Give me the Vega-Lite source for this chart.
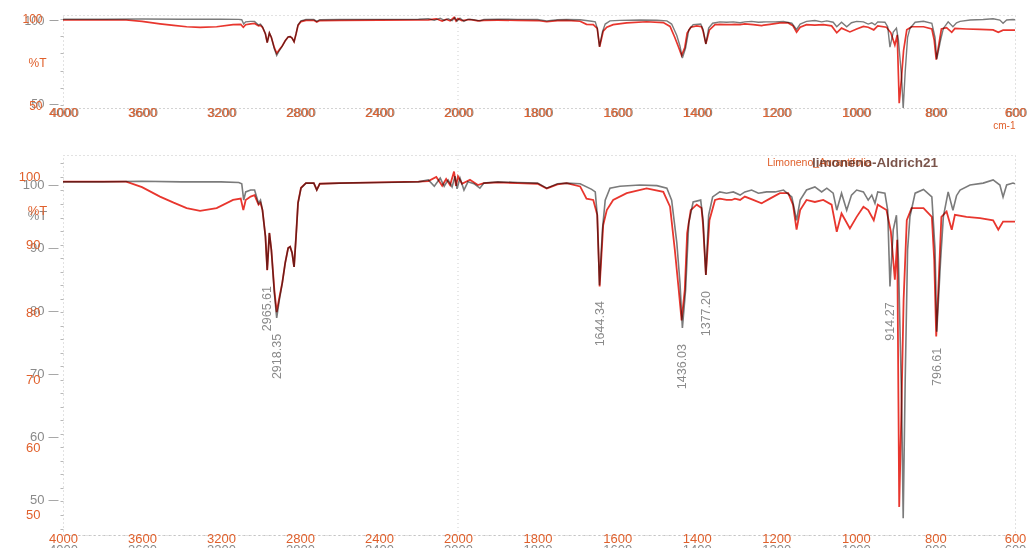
{
  "$schema": "https://vega.github.io/schema/vega-lite/v6.json",
  "background": "white",
  "padding": {"left": 17, "top": 12, "right": 10, "bottom": 0},
  "bounds": "flush",
  "spacing": 47,
  "config": {
    "view": {"stroke": "#c4c4c4", "strokeDash": [1, 3], "strokeWidth": 1},
    "font": "Liberation Sans",
    "axis": {"grid": false, "labelFont": "Liberation Sans", "titleFont": "Liberation Sans", "labelOverlap": false, "labelFlush": false, "labelBound": false, "domain": false, "format": "d"}
  },
  "datasets": {
    "gray": [
      {"wn": 4000, "t": 100.5}, {"wn": 3800, "t": 100.5}, {"wn": 3600, "t": 100.6}, {"wn": 3400, "t": 100.5}, {"wn": 3200, "t": 100.5},
      {"wn": 3110, "t": 100.4}, {"wn": 3095, "t": 100.2}, {"wn": 3085, "t": 97.6}, {"wn": 3075, "t": 98.9}, {"wn": 3050, "t": 99.2},
      {"wn": 3030, "t": 99.2}, {"wn": 3010, "t": 97.1}, {"wn": 3000, "t": 97.6}, {"wn": 2990, "t": 96.0}, {"wn": 2975, "t": 91.8},
      {"wn": 2966, "t": 86.5}, {"wn": 2955, "t": 92.4}, {"wn": 2945, "t": 89.7}, {"wn": 2930, "t": 82.9}, {"wn": 2918, "t": 78.9},
      {"wn": 2905, "t": 81.7}, {"wn": 2890, "t": 84.4}, {"wn": 2875, "t": 87.6}, {"wn": 2860, "t": 90.0}, {"wn": 2850, "t": 90.2},
      {"wn": 2840, "t": 89.2}, {"wn": 2830, "t": 87.0}, {"wn": 2820, "t": 91.8}, {"wn": 2810, "t": 97.1}, {"wn": 2795, "t": 99.5},
      {"wn": 2770, "t": 100.3}, {"wn": 2730, "t": 100.3}, {"wn": 2715, "t": 99.2}, {"wn": 2700, "t": 100.2}, {"wn": 2600, "t": 100.3},
      {"wn": 2400, "t": 100.4}, {"wn": 2200, "t": 100.5}, {"wn": 2150, "t": 100.8}, {"wn": 2120, "t": 99.8}, {"wn": 2090, "t": 101.1},
      {"wn": 2070, "t": 99.8}, {"wn": 2050, "t": 100.8}, {"wn": 2030, "t": 99.7}, {"wn": 2015, "t": 101.4}, {"wn": 2005, "t": 99.4},
      {"wn": 1995, "t": 101.1}, {"wn": 1985, "t": 99.2}, {"wn": 1975, "t": 100.5}, {"wn": 1960, "t": 100.2}, {"wn": 1945, "t": 99.5},
      {"wn": 1935, "t": 100.3}, {"wn": 1900, "t": 100.5}, {"wn": 1850, "t": 100.4}, {"wn": 1800, "t": 100.3}, {"wn": 1777, "t": 99.5},
      {"wn": 1750, "t": 100.2}, {"wn": 1727, "t": 100.3}, {"wn": 1693, "t": 100.2}, {"wn": 1664, "t": 99.3}, {"wn": 1655, "t": 98.9},
      {"wn": 1650, "t": 95.2}, {"wn": 1644.34, "t": 84.1}, {"wn": 1637, "t": 92.9}, {"wn": 1630, "t": 97.6}, {"wn": 1618, "t": 99.5},
      {"wn": 1593, "t": 99.8}, {"wn": 1543, "t": 100.0}, {"wn": 1500, "t": 99.9}, {"wn": 1475, "t": 99.5}, {"wn": 1463, "t": 97.6},
      {"wn": 1450, "t": 90.8}, {"wn": 1442, "t": 84.4}, {"wn": 1436, "t": 77.3}, {"wn": 1428, "t": 83.3}, {"wn": 1420, "t": 94.0},
      {"wn": 1409, "t": 97.3}, {"wn": 1390, "t": 97.6}, {"wn": 1384, "t": 94.4}, {"wn": 1377, "t": 85.7}, {"wn": 1370, "t": 95.2},
      {"wn": 1360, "t": 98.1}, {"wn": 1342, "t": 98.9}, {"wn": 1325, "t": 98.7}, {"wn": 1308, "t": 98.9}, {"wn": 1291, "t": 98.4},
      {"wn": 1279, "t": 98.9}, {"wn": 1262, "t": 99.2}, {"wn": 1245, "t": 98.7}, {"wn": 1224, "t": 98.9}, {"wn": 1203, "t": 98.9},
      {"wn": 1182, "t": 99.2}, {"wn": 1161, "t": 98.1}, {"wn": 1149, "t": 94.4}, {"wn": 1140, "t": 97.6}, {"wn": 1124, "t": 99.2},
      {"wn": 1103, "t": 99.7}, {"wn": 1086, "t": 98.9}, {"wn": 1073, "t": 99.5}, {"wn": 1057, "t": 98.7}, {"wn": 1048, "t": 96.0},
      {"wn": 1036, "t": 98.7}, {"wn": 1023, "t": 96.0}, {"wn": 1011, "t": 98.4}, {"wn": 998, "t": 99.2}, {"wn": 981, "t": 98.9},
      {"wn": 969, "t": 97.6}, {"wn": 960, "t": 98.4}, {"wn": 952, "t": 97.1}, {"wn": 945, "t": 98.9}, {"wn": 927, "t": 98.7},
      {"wn": 920, "t": 96.0}, {"wn": 914.27, "t": 83.9}, {"wn": 906, "t": 92.9}, {"wn": 898, "t": 95.2}, {"wn": 893, "t": 88.1},
      {"wn": 885, "t": 65.9}, {"wn": 881, "t": 47.1}, {"wn": 876, "t": 69.0}, {"wn": 870, "t": 89.7}, {"wn": 864, "t": 95.0},
      {"wn": 851, "t": 98.7}, {"wn": 830, "t": 99.3}, {"wn": 809, "t": 98.1}, {"wn": 801, "t": 89.7}, {"wn": 796.61, "t": 76.7},
      {"wn": 787, "t": 88.1}, {"wn": 780, "t": 95.0}, {"wn": 768, "t": 98.9}, {"wn": 756, "t": 96.0}, {"wn": 747, "t": 98.3},
      {"wn": 738, "t": 99.2}, {"wn": 713, "t": 100.0}, {"wn": 680, "t": 100.3}, {"wn": 655, "t": 100.8}, {"wn": 638, "t": 100.0},
      {"wn": 630, "t": 98.1}, {"wn": 621, "t": 100.0}, {"wn": 605, "t": 100.3}, {"wn": 600, "t": 100.2}
    ],
    "red": [
      {"wn": 4000, "t": 99.3}, {"wn": 3800, "t": 99.3}, {"wn": 3680, "t": 99.3}, {"wn": 3600, "t": 98.5}, {"wn": 3509, "t": 97.1},
      {"wn": 3440, "t": 96.2}, {"wn": 3374, "t": 95.4}, {"wn": 3306, "t": 95.0}, {"wn": 3222, "t": 95.4}, {"wn": 3139, "t": 96.6},
      {"wn": 3100, "t": 96.8}, {"wn": 3087, "t": 95.1}, {"wn": 3075, "t": 96.6}, {"wn": 3050, "t": 97.1}, {"wn": 3030, "t": 97.3},
      {"wn": 3010, "t": 95.9}, {"wn": 3000, "t": 96.2}, {"wn": 2990, "t": 95.1}, {"wn": 2975, "t": 91.2}, {"wn": 2966, "t": 86.2},
      {"wn": 2955, "t": 91.7}, {"wn": 2945, "t": 89.2}, {"wn": 2930, "t": 83.3}, {"wn": 2918, "t": 80.0}, {"wn": 2905, "t": 82.1},
      {"wn": 2890, "t": 84.3}, {"wn": 2875, "t": 87.3}, {"wn": 2860, "t": 89.5}, {"wn": 2850, "t": 89.7}, {"wn": 2840, "t": 88.8},
      {"wn": 2830, "t": 86.7}, {"wn": 2820, "t": 91.2}, {"wn": 2810, "t": 96.2}, {"wn": 2795, "t": 98.4}, {"wn": 2770, "t": 99.1},
      {"wn": 2730, "t": 99.1}, {"wn": 2715, "t": 98.1}, {"wn": 2700, "t": 99.0}, {"wn": 2600, "t": 99.1}, {"wn": 2400, "t": 99.2},
      {"wn": 2200, "t": 99.3}, {"wn": 2150, "t": 99.4}, {"wn": 2110, "t": 100.0}, {"wn": 2080, "t": 98.7}, {"wn": 2060, "t": 99.7},
      {"wn": 2040, "t": 98.8}, {"wn": 2020, "t": 100.8}, {"wn": 2010, "t": 98.7}, {"wn": 2000, "t": 100.1}, {"wn": 1990, "t": 99.0},
      {"wn": 1970, "t": 99.6}, {"wn": 1950, "t": 98.8}, {"wn": 1935, "t": 99.1}, {"wn": 1900, "t": 99.2}, {"wn": 1850, "t": 99.1},
      {"wn": 1800, "t": 99.0}, {"wn": 1777, "t": 98.3}, {"wn": 1750, "t": 98.9}, {"wn": 1727, "t": 99.1}, {"wn": 1693, "t": 98.6},
      {"wn": 1677, "t": 96.8}, {"wn": 1660, "t": 96.6}, {"wn": 1650, "t": 94.4}, {"wn": 1644, "t": 83.8}, {"wn": 1635, "t": 92.9},
      {"wn": 1626, "t": 95.1}, {"wn": 1610, "t": 96.6}, {"wn": 1576, "t": 97.6}, {"wn": 1526, "t": 98.3}, {"wn": 1484, "t": 97.8},
      {"wn": 1467, "t": 95.6}, {"wn": 1455, "t": 89.2}, {"wn": 1446, "t": 83.8}, {"wn": 1438, "t": 78.8}, {"wn": 1430, "t": 83.3},
      {"wn": 1424, "t": 91.7}, {"wn": 1415, "t": 95.1}, {"wn": 1400, "t": 95.9}, {"wn": 1388, "t": 95.4}, {"wn": 1384, "t": 92.9},
      {"wn": 1377, "t": 85.5}, {"wn": 1368, "t": 93.6}, {"wn": 1354, "t": 96.6}, {"wn": 1342, "t": 96.8}, {"wn": 1325, "t": 96.6},
      {"wn": 1312, "t": 96.6}, {"wn": 1304, "t": 96.8}, {"wn": 1291, "t": 96.6}, {"wn": 1279, "t": 97.1}, {"wn": 1258, "t": 96.6},
      {"wn": 1237, "t": 96.1}, {"wn": 1216, "t": 96.8}, {"wn": 1191, "t": 97.6}, {"wn": 1170, "t": 97.6}, {"wn": 1158, "t": 95.9},
      {"wn": 1149, "t": 92.2}, {"wn": 1140, "t": 95.1}, {"wn": 1124, "t": 96.6}, {"wn": 1103, "t": 96.3}, {"wn": 1082, "t": 96.6},
      {"wn": 1061, "t": 95.9}, {"wn": 1048, "t": 91.9}, {"wn": 1036, "t": 94.6}, {"wn": 1015, "t": 92.4}, {"wn": 998, "t": 94.1},
      {"wn": 981, "t": 95.6}, {"wn": 969, "t": 95.1}, {"wn": 955, "t": 93.6}, {"wn": 945, "t": 95.9}, {"wn": 923, "t": 95.1},
      {"wn": 912, "t": 91.9}, {"wn": 902, "t": 84.8}, {"wn": 896, "t": 90.7}, {"wn": 893, "t": 67.0}, {"wn": 891, "t": 51.2},
      {"wn": 886, "t": 64.1}, {"wn": 880, "t": 81.8}, {"wn": 872, "t": 93.6}, {"wn": 860, "t": 95.4}, {"wn": 830, "t": 95.4},
      {"wn": 809, "t": 94.1}, {"wn": 803, "t": 87.7}, {"wn": 798, "t": 76.4}, {"wn": 792, "t": 84.3}, {"wn": 785, "t": 94.1},
      {"wn": 772, "t": 94.9}, {"wn": 759, "t": 92.2}, {"wn": 751, "t": 94.4}, {"wn": 722, "t": 94.1}, {"wn": 688, "t": 93.9},
      {"wn": 655, "t": 93.6}, {"wn": 642, "t": 92.2}, {"wn": 630, "t": 93.4}, {"wn": 600, "t": 93.4}
    ],
    "peaks": [
      {"wn": 2965.61, "t": 86.5, "label": "2965.61"},
      {"wn": 2918.35, "t": 78.9, "label": "2918.35"},
      {"wn": 1644.34, "t": 84.1, "label": "1644.34"},
      {"wn": 1436.03, "t": 77.3, "label": "1436.03"},
      {"wn": 1377.20, "t": 85.7, "label": "1377.20"},
      {"wn": 914.27, "t": 83.9, "label": "914.27"},
      {"wn": 796.61, "t": 76.7, "label": "796.61"}
    ]
  },
  "vconcat": [
    {
      "width": 952,
      "height": 93,
      "resolve": {"scale": {"y": "independent"}, "axis": {"x": "independent", "y": "independent"}},
      "layer": [
        {
          "layer": [
            {
              "data": {"values": [{}]},
              "mark": {"type": "rule", "color": "#cfcfcf", "strokeDash": [1, 3]},
              "encoding": {"x": {"datum": 2000, "type": "quantitative", "scale": {"domain": [4000, 2000, 600], "range": [0, 395, 952], "nice": false, "zero": false}}}
            },
            {
              "data": {"name": "gray"},
              "mark": {"type": "line", "color": "#7b7b7b", "strokeWidth": 1.4, "clip": true},
              "encoding": {
                "x": {"field": "wn", "type": "quantitative", "scale": {"domain": [4000, 2000, 600], "range": [0, 395, 952], "nice": false, "zero": false},
                  "axis": {"orient": "bottom", "values": [4000, 3600, 3200, 2800, 2400, 2000, 1800, 1600, 1400, 1200, 1000, 800, 600], "labelColor": "#6a6a6a", "labelOpacity": 0.8, "labelFontSize": 13, "ticks": false, "labelPadding": 4, "labelBaseline": "middle", "labelOffset": 1, "title": null, "domain": true, "domainColor": "#c4c4c4", "domainDash": [1, 3]}},
                "y": {"field": "t", "type": "quantitative", "scale": {"domain": [47.6, 103], "nice": false, "zero": false},
                  "axis": {"orient": "left", "values": [50, 100], "labelColor": "#8a8a8a", "labelFontSize": 12, "offset": 5, "tickSize": 9, "tickColor": "#a0a0a0", "labelPadding": 5, "title": null}}
              }
            }
          ]
        },
        {
          "data": {"name": "red"},
          "mark": {"type": "line", "color": "#e8362e", "strokeWidth": 1.7, "blend": "multiply"},
          "encoding": {
            "x": {"field": "wn", "type": "quantitative", "scale": {"domain": [4000, 2000, 600], "range": [0, 395, 952], "nice": false, "zero": false},
              "axis": {"orient": "bottom", "values": [4000, 3600, 3200, 2800, 2400, 2000, 1800, 1600, 1400, 1200, 1000, 800, 600], "labelColor": "#e0602c", "labelFontSize": 13, "ticks": false, "labelPadding": 4, "labelBaseline": "middle", "title": "cm-1", "titleColor": "#e0602c", "titleFontSize": 10, "titleFontWeight": "normal", "titleAnchor": "end", "titlePadding": 1}},
            "y": {"field": "t", "type": "quantitative", "scale": {"domain": [48.4, 102.2], "nice": false, "zero": false},
              "axis": {"orient": "left", "values": [50, 60, 70, 80, 90, 100], "labelExpr": "datum.value === 50 || datum.value === 100 ? datum.label : ''", "labelColor": "#e0602c", "labelFontSize": 12, "ticks": true, "tickSize": 3, "tickColor": "#b8b8b8", "offset": 0, "labelPadding": 18, "title": "%T", "titleAngle": 0, "titleX": -26, "titleY": 47, "titleAlign": "center", "titleBaseline": "middle", "titleColor": "#e0602c", "titleFontSize": 12, "titleFontWeight": "normal"}}
          }
        }
      ]
    },
    {
      "width": 952,
      "height": 380,
      "resolve": {"scale": {"y": "independent"}, "axis": {"x": "independent", "y": "independent"}},
      "layer": [
        {
          "layer": [
            {
              "data": {"values": [{}]},
              "mark": {"type": "rule", "color": "#cfcfcf", "strokeDash": [1, 3]},
              "encoding": {"x": {"datum": 2000, "type": "quantitative", "scale": {"domain": [4000, 2000, 600], "range": [0, 395, 952], "nice": false, "zero": false}}}
            },
            {
              "data": {"name": "gray"},
              "mark": {"type": "line", "color": "#7b7b7b", "strokeWidth": 1.6, "clip": true},
              "encoding": {
                "x": {"field": "wn", "type": "quantitative", "scale": {"domain": [4000, 2000, 600], "range": [0, 395, 952], "nice": false, "zero": false},
                  "axis": {"orient": "bottom", "values": [4000, 3600, 3200, 2800, 2400, 2000, 1800, 1600, 1400, 1200, 1000, 800, 600], "labelColor": "#8a8a8a", "labelFontSize": 13, "ticks": false, "labelPadding": 14, "labelBaseline": "middle", "title": null, "domain": true, "domainColor": "#c4c4c4", "domainDash": [2, 3]}},
                "y": {"field": "t", "type": "quantitative", "scale": {"domain": [44.44, 104.76], "nice": false, "zero": false},
                  "axis": {"orient": "left", "values": [50, 60, 70, 80, 90, 100], "labelColor": "#8a8a8a", "labelFontSize": 13, "offset": 5, "tickSize": 10, "tickColor": "#a8a8a8", "labelPadding": 4, "title": "%T", "titleAngle": 0, "titleX": -21, "titleY": 60, "titleAlign": "center", "titleBaseline": "middle", "titleColor": "#8a8a8a", "titleFontSize": 13, "titleFontWeight": "normal"}}
              }
            },
            {
              "data": {"name": "peaks"},
              "mark": {"type": "text", "angle": 270, "align": "right", "baseline": "middle", "dx": -16, "color": "#8a8a8a", "fontSize": 12.5, "font": "Liberation Sans"},
              "encoding": {
                "x": {"field": "wn", "type": "quantitative"},
                "y": {"field": "t", "type": "quantitative"},
                "text": {"field": "label"}
              }
            },
            {
              "data": {"values": [{}]},
              "mark": {"type": "text", "align": "left", "baseline": "middle", "color": "#e0602c", "fontSize": 10.5},
              "encoding": {
                "x": {"datum": 1223, "type": "quantitative"},
                "y": {"datum": 103.5, "type": "quantitative"},
                "text": {"value": "Limoneno_Aurantifolia"}
              }
            },
            {
              "data": {"values": [{}]},
              "mark": {"type": "text", "align": "left", "baseline": "middle", "color": "#5a2a1e", "fontSize": 13.5, "fontWeight": "bold", "opacity": 0.8},
              "encoding": {
                "x": {"datum": 1110, "type": "quantitative"},
                "y": {"datum": 103.5, "type": "quantitative"},
                "text": {"value": "limoneno-Aldrich21"}
              }
            }
          ]
        },
        {
          "data": {"name": "red"},
          "mark": {"type": "line", "color": "#e8362e", "strokeWidth": 1.8, "blend": "multiply"},
          "encoding": {
            "x": {"field": "wn", "type": "quantitative", "scale": {"domain": [4000, 2000, 600], "range": [0, 395, 952], "nice": false, "zero": false},
              "axis": {"orient": "bottom", "values": [4000, 3600, 3200, 2800, 2400, 2000, 1800, 1600, 1400, 1200, 1000, 800, 600], "labelColor": "#e0602c", "labelFontSize": 13, "ticks": false, "labelPadding": 3, "labelBaseline": "middle", "title": null}},
            "y": {"field": "t", "type": "quantitative", "scale": {"domain": [47.04, 103.25], "nice": false, "zero": false},
              "axis": {"orient": "left", "values": [48, 50, 52, 54, 56, 58, 60, 62, 64, 66, 68, 70, 72, 74, 76, 78, 80, 82, 84, 86, 88, 90, 92, 94, 96, 98, 100, 102], "labelExpr": "datum.value % 10 === 0 ? datum.label : ''", "labelColor": "#e0602c", "labelFontSize": 13, "ticks": true, "tickSize": 3, "tickColor": "#b8b8b8", "offset": 0, "labelPadding": 20, "title": "%T", "titleAngle": 0, "titleX": -26, "titleY": 55, "titleAlign": "center", "titleBaseline": "middle", "titleColor": "#e0602c", "titleFontSize": 13, "titleFontWeight": "normal"}}
          }
        }
      ]
    }
  ]
}
